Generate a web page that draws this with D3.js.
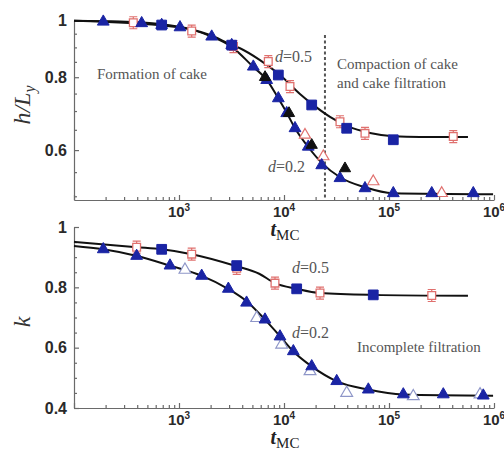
<!DOCTYPE html>
<html><head><meta charset="utf-8">
<script src="https://cdn.jsdelivr.net/npm/d3@7"></script>
<style>body{margin:0;background:#fff;} svg{display:block}</style>
</head><body><svg id="c" width="504" height="455"></svg>
<script>
// ---------- data ----------
const xMajorTicks = [1e2, 1e3, 1e4, 1e5, 1e6];
const xTickExponents = ["", "3", "4", "5", "6"];
const topYTicks = [0.6, 0.8, 1];
const topYTickLabels = ["0.6", "0.8", "1"];
const topYMinor = [0.5, 0.55, 0.65, 0.7, 0.75, 0.85, 0.9, 0.95];
const botYTicks = [0.4, 0.6, 0.8, 1];
const botYTickLabels = ["0.4", "0.6", "0.8", "1"];
const botYMinor = [0.45, 0.5, 0.55, 0.65, 0.7, 0.75, 0.85, 0.9, 0.95];

// top panel: h/Ly vs tMC
const topSqFilledT = [684, 3177, 8831, 18360, 39540, 109900];
const topSqFilledH = [0.983, 0.908, 0.807, 0.717, 0.654, 0.625];
const topSqOpenT = [367, 1321, 3300, 7085, 11400, 34120, 59060, 409300];
const topSqOpenH = [0.992, 0.960, 0.903, 0.851, 0.771, 0.671, 0.641, 0.633];
const topTriFilledT = [190, 441, 684, 1022, 2048, 3177, 5103, 6842, 8831, 10610, 12730, 17030, 22860, 34120, 59060, 109900, 255300, 635000];
const topTriFilledH = [0.996, 0.990, 0.983, 0.974, 0.939, 0.908, 0.834, 0.791, 0.736, 0.694, 0.654, 0.608, 0.565, 0.537, 0.516, 0.506, 0.506, 0.506];
const topTriBlackT = [6600, 11160, 18360, 38100];
const topTriBlackH = [0.800, 0.694, 0.612, 0.558];
const topTriOpenT = [15850, 23680, 70800, 317700];
const topTriOpenH = [0.637, 0.585, 0.530, 0.506];
const topCurve05T = [100, 274, 659, 1274, 1972, 3060, 3810, 5906, 9160, 14190, 18480, 27420, 39810, 65900, 109100, 197200, 565000];
const topCurve05H = [1.0, 0.997, 0.987, 0.968, 0.945, 0.912, 0.897, 0.856, 0.807, 0.749, 0.720, 0.684, 0.660, 0.642, 0.634, 0.632, 0.632];
const topCurve02T = [100, 190, 1022, 2048, 3199, 5070, 6887, 8790, 10680, 12730, 16930, 23000, 34150, 59050, 109200, 980000];
const topCurve02H = [1.0, 0.996, 0.974, 0.939, 0.901, 0.834, 0.791, 0.737, 0.694, 0.654, 0.608, 0.570, 0.539, 0.518, 0.506, 0.504];
const dividerT = 24550;
const dividerTopH = 0.945;

// bottom panel: k vs tMC
const botSqFilledT = [684, 3545, 13210, 70800];
const botSqFilledK = [0.926, 0.872, 0.795, 0.775];
const botSqOpenT = [395, 1321, 3545, 8206, 22020, 255300];
const botSqOpenK = [0.933, 0.910, 0.863, 0.814, 0.781, 0.773];
const botTriFilledT = [190, 395, 821, 1645, 2951, 4400, 6592, 9160, 12270, 18360, 31770, 63530, 136800, 328900, 790700];
const botTriFilledK = [0.926, 0.904, 0.872, 0.838, 0.795, 0.749, 0.693, 0.637, 0.588, 0.538, 0.489, 0.461, 0.445, 0.445, 0.441];
const botTriOpenT = [1140, 5495, 9506, 17700, 39540, 170300, 736200];
const botTriOpenK = [0.858, 0.698, 0.610, 0.522, 0.450, 0.439, 0.445];
const botCurve05T = [100, 395, 684, 1321, 3545, 5800, 8206, 13210, 22020, 70800, 565000];
const botCurve05K = [0.951, 0.933, 0.926, 0.910, 0.870, 0.845, 0.814, 0.795, 0.781, 0.775, 0.772];
const botCurve02T = [100, 190, 398, 821, 1656, 2929, 4540, 6592, 9160, 12160, 18480, 31990, 63100, 135900, 980000];
const botCurve02K = [0.937, 0.926, 0.904, 0.872, 0.838, 0.795, 0.750, 0.693, 0.638, 0.589, 0.537, 0.488, 0.461, 0.445, 0.441];

// ---------- drawing ----------
const svg = d3.select("#c");
const X0 = 74, X1 = 494;
const x = d3.scaleLog().domain([1e2, 1e6]).range([X0, X1]);
const yTop = d3.scaleLog().domain([0.4927, 1]).range([200, 20.7]);
const yBot = d3.scaleLinear().domain([0.4, 1]).range([408, 227]);

const axisCol = "#6a6a6a";
const xMinor = [];
for (let e = 2; e < 6; e++) for (let m = 2; m <= 9; m++) xMinor.push(m * Math.pow(10, e));

function drawAxes(y, yMaj, yMajLab, yMin, y0px) {
  const gx = svg.append("g").attr("transform", `translate(0,${y0px})`);
  gx.call(d3.axisBottom(x).tickValues(xMajorTicks).tickSize(-5).tickSizeOuter(0).tickFormat(""));
  gx.append("g").call(d3.axisBottom(x).tickValues(xMinor).tickSize(-3).tickSizeOuter(0).tickFormat(""))
    .select(".domain").remove();
  gx.selectAll("path,line").attr("stroke", axisCol).attr("stroke-width", 1.2);
  xMajorTicks.forEach((v, i) => {
    if (!xTickExponents[i]) return;
    const t = gx.append("text").attr("x", x(v)).attr("y", 17).attr("text-anchor", "middle")
      .attr("font-family", "Liberation Sans, Arial, sans-serif").attr("font-weight", "bold")
      .attr("font-size", 15).attr("fill", "#2a2a2a");
    t.append("tspan").text("10");
    t.append("tspan").attr("dy", -6).attr("font-size", 10).text(xTickExponents[i]);
  });
  const gy = svg.append("g").attr("transform", `translate(${X0},0)`);
  gy.call(d3.axisLeft(y).tickValues(yMaj).tickSize(-5).tickSizeOuter(0).tickFormat(""));
  gy.append("g").call(d3.axisLeft(y).tickValues(yMin).tickSize(-3).tickSizeOuter(0).tickFormat(""))
    .select(".domain").remove();
  gy.selectAll("path,line").attr("stroke", axisCol).attr("stroke-width", 1.2);
  yMaj.forEach((v, i) => {
    gy.append("text").attr("x", -7).attr("y", y(v)).attr("dy", "0.36em").attr("text-anchor", "end")
      .attr("font-family", "Liberation Sans, Arial, sans-serif").attr("font-weight", "bold")
      .attr("font-size", 16).attr("fill", "#2a2a2a").text(yMajLab[i]);
  });
}
drawAxes(yTop, topYTicks, topYTickLabels, topYMinor, 200);
drawAxes(yBot, botYTicks, botYTickLabels, botYMinor, 408);

// divider
svg.append("line").attr("x1", x(dividerT)).attr("x2", x(dividerT))
  .attr("y1", yTop(dividerTopH)).attr("y2", 199)
  .attr("stroke", "#555").attr("stroke-width", 2).attr("stroke-dasharray", "3,2.5");

// curves
function curve(T, V, y) {
  const pts = T.map((t, i) => [x(t), y(V[i])]);
  svg.append("path").attr("d", d3.line().curve(d3.curveMonotoneX)(pts))
    .attr("fill", "none").attr("stroke", "#111").attr("stroke-width", 2);
}

const blue = "#1a24a4", red = "#e0706e", openBlue = "#8e96c8";
function markers(T, V, y, type, opts) {
  const g = svg.append("g");
  T.forEach((t, i) => {
    const cx = x(t), cy = y(V[i]);
    if (opts.err) {
      g.append("path").attr("d", `M${cx - 4},${cy - 6}H${cx + 4}M${cx},${cy - 6}V${cy + 6}M${cx - 4},${cy + 6}H${cx + 4}`)
        .attr("stroke", opts.stroke).attr("stroke-width", 1.2).attr("fill", "none");
    }
    g.append("path").attr("transform", `translate(${cx},${cy})`)
      .attr("d", d3.symbol().type(type).size(opts.size)())
      .attr("fill", opts.fill).attr("stroke", opts.stroke).attr("stroke-width", opts.sw || 1);
  });
}

// top panel
curve(topCurve05T, topCurve05H, yTop);
curve(topCurve02T, topCurve02H, yTop);
markers(topSqOpenT, topSqOpenH, yTop, d3.symbolSquare, {size: 60, fill: "#fff", stroke: red, sw: 1.3, err: true});
markers(topTriOpenT, topTriOpenH, yTop, d3.symbolTriangle, {size: 55, fill: "#fff", stroke: red, sw: 1.2});
markers(topSqFilledT, topSqFilledH, yTop, d3.symbolSquare, {size: 95, fill: blue, stroke: blue});
markers(topTriFilledT, topTriFilledH, yTop, d3.symbolTriangle, {size: 60, fill: blue, stroke: blue});
markers(topTriBlackT, topTriBlackH, yTop, d3.symbolTriangle, {size: 55, fill: "#111", stroke: "#111"});

// bottom panel
curve(botCurve05T, botCurve05K, yBot);
curve(botCurve02T, botCurve02K, yBot);
markers(botSqOpenT, botSqOpenK, yBot, d3.symbolSquare, {size: 60, fill: "#fff", stroke: red, sw: 1.3, err: true});
markers(botTriOpenT, botTriOpenK, yBot, d3.symbolTriangle, {size: 60, fill: "#fff", stroke: openBlue, sw: 1.2});
markers(botSqFilledT, botSqFilledK, yBot, d3.symbolSquare, {size: 95, fill: blue, stroke: blue});
markers(botTriFilledT, botTriFilledK, yBot, d3.symbolTriangle, {size: 60, fill: blue, stroke: blue});

// annotations
const serif = "'Liberation Serif', 'Times New Roman', serif";
function note(tx, ty, str, size) {
  svg.append("text").attr("x", tx).attr("y", ty).attr("font-family", serif)
    .attr("font-size", size || 15).attr("fill", "#555").text(str);
}
function dLabel(tx, ty, val) {
  const t = svg.append("text").attr("x", tx).attr("y", ty).attr("font-family", serif)
    .attr("font-size", 16).attr("fill", "#555");
  t.append("tspan").attr("font-style", "italic").text("d");
  t.append("tspan").text("=" + val);
}
note(97, 79, "Formation of cake");
note(337, 69, "Compaction of cake");
note(337, 88, "and cake filtration");
dLabel(275, 62, "0.5");
dLabel(268, 172, "0.2");
dLabel(292, 273, "0.5");
dLabel(292, 338, "0.2");
note(357, 352, "Incomplete filtration");

// axis titles
function xTitle(cy) {
  const t = svg.append("text").attr("x", 285).attr("y", cy).attr("text-anchor", "middle")
    .attr("font-family", serif).attr("fill", "#222");
  t.append("tspan").attr("font-style", "italic").attr("font-weight", "bold").attr("font-size", 20).text("t");
  t.append("tspan").attr("dy", 4).attr("font-size", 15).text("MC");
}
xTitle(236);
xTitle(444);
const yl = svg.append("text").attr("transform", "translate(30,105) rotate(-90)").attr("text-anchor", "middle")
  .attr("font-family", serif).attr("font-style", "italic").attr("font-size", 24).attr("fill", "#333");
yl.append("tspan").text("h/L");
yl.append("tspan").attr("dy", 5).attr("font-size", 16).text("y");
svg.append("text").attr("transform", "translate(30,322) rotate(-90)").attr("text-anchor", "middle")
  .attr("font-family", serif).attr("font-style", "italic").attr("font-size", 24).attr("fill", "#333").text("k");
</script></body></html>
